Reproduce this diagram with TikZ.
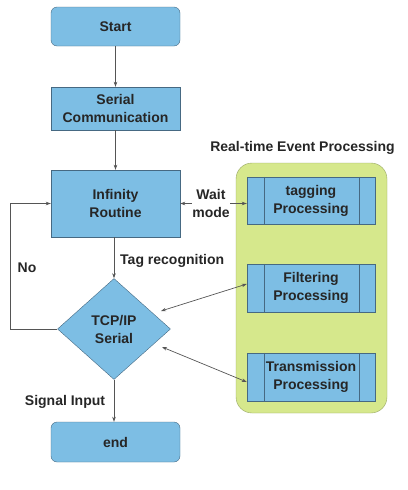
\documentclass[tikz,border=0pt]{standalone}
\usepackage{fontspec}
\setmainfont{Liberation Sans}
\usetikzlibrary{shapes.geometric,arrows.meta}
\definecolor{boxblue}{RGB}{125,190,228}
\definecolor{boxedge}{RGB}{70,105,130}
\definecolor{evtgreen}{RGB}{214,232,140}
\definecolor{evtedge}{RGB}{150,165,100}
\definecolor{lineg}{RGB}{85,85,85}

\begin{document}
\begin{tikzpicture}[x=1pt,y=-1pt,
	font=\fontsize{14}{18}\selectfont\bfseries,
	box/.style={draw=boxedge,fill=boxblue,minimum width=129pt,align=center,inner sep=0pt,text=black!85},
	rbox/.style={box,rounded corners=6pt},
	procbox/.style={box,minimum width=128pt,minimum height=48pt},
	decision/.style={diamond,draw=boxedge,fill=boxblue,minimum width=113pt,minimum height=101pt,inner sep=0pt,align=center,aspect=1.12,text=black!85},
	flow/.style={draw=lineg,line width=0.7pt,-{Stealth[length=5pt,width=3.5pt]}},
	biflow/.style={draw=lineg,line width=0.7pt,{Stealth[length=5pt,width=3.5pt]}-{Stealth[length=5pt,width=3.5pt]}},
	lbl/.style={align=center,inner sep=1pt,text=black!85}]
	\useasboundingbox (0,0) rectangle (407,490);

	% main column
	\node[rbox,minimum height=39pt] (start) at (115.5,26.5) {Start};
	\node[box,minimum height=43pt] (serial) at (115.5,108.5) {Serial\\Communication};
	\node[box,minimum height=67pt] (infinity) at (115.5,203.5) {Infinity\\Routine};
	\node[decision] (tcp) at (114,329) {TCP/IP\\Serial};
	\node[rbox,minimum height=40pt] (end) at (115.5,442) {end};

	% event processing group
	\node[draw=evtedge,fill=evtgreen,rounded corners=16pt,minimum width=151pt,minimum height=250pt] (evt) at (311.5,288) {};
	\node[lbl] (evttitle) at (302.5,148) {Real-time Event Processing};
	\node[procbox,minimum height=47pt] (tag) at (311,200.5) {tagging\\Processing};
	\node[procbox] (filt) at (311,288) {Filtering\\Processing};
	\node[procbox] (trans) at (311,377) {Transmission\\Processing};
	\foreach \n in {tag,filt,trans} {
		\draw[boxedge] ([xshift=17pt]\n.north west) -- ([xshift=17pt]\n.south west);
		\draw[boxedge] ([xshift=-16pt]\n.north east) -- ([xshift=-16pt]\n.south east);
	}

	% connectors
	\draw[flow] (start) -- (serial);
	\draw[flow] (serial) -- (infinity);
	\draw[flow] (infinity.south -| tcp.north) -- (tcp.north);
	\node[lbl,anchor=west] (tagrec) at (119,261) {Tag recognition};
	\coordinate (loop) at (10,329);
	\draw[flow] (tcp.west) -- (loop) |- (infinity.west);
	\node[lbl] (no) at (27,268) {No};
	\draw[biflow] (infinity.east) -- (infinity.east -| tag.west);
	\node[lbl,fill=white,inner sep=0pt] (wait) at (211,203) {Wait\\mode};
	\coordinate (f1) at (161,311);
	\coordinate (t1) at (162,347);
	\draw[biflow] (f1) -- ([yshift=4pt]filt.west);
	\draw[biflow] (t1) -- ([yshift=-5pt]trans.west);
	\draw[flow] (tcp.south) -- (tcp.south |- end.north);
	\node[lbl] (sig) at (65,402) {Signal Input};
\end{tikzpicture}
\end{document}
